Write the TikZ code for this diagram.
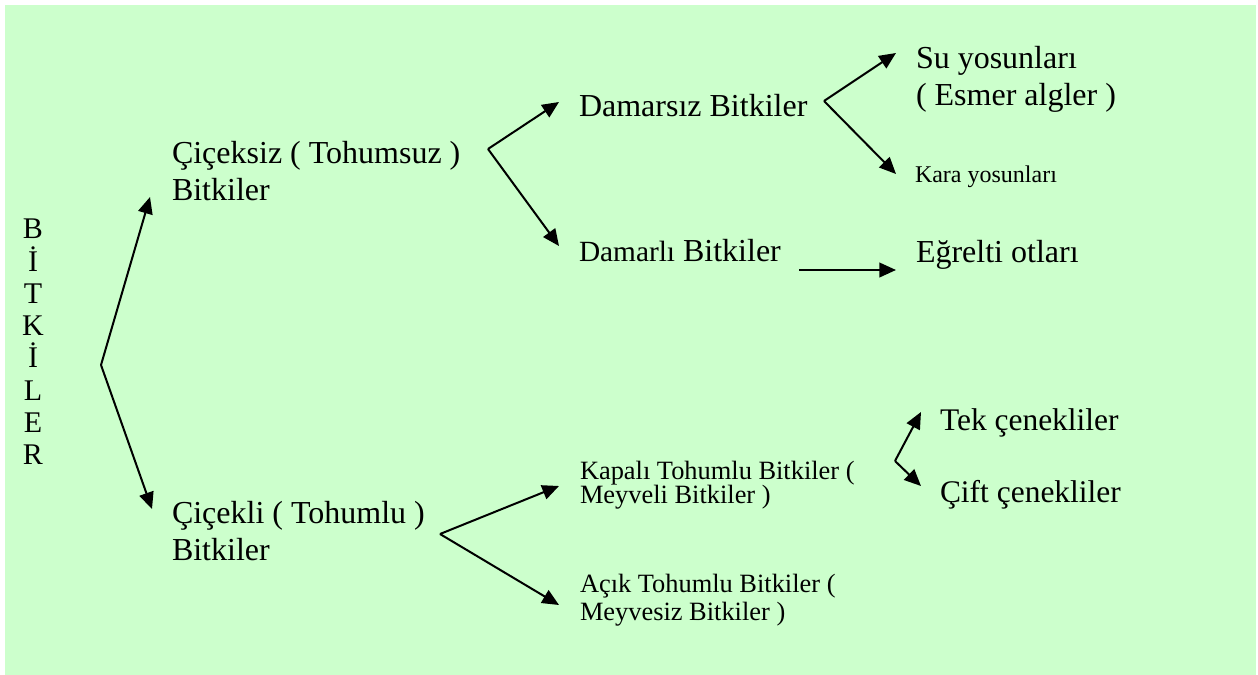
\documentclass[tikz,border=0pt]{standalone}
\usepackage{fontspec}
\setmainfont{Liberation Serif}
\usetikzlibrary{arrows.meta}
\definecolor{leafbg}{RGB}{204,255,204}
% two lines of text whose baseline is the first line's baseline
\newcommand\twolines[2]{\vtop{\hbox{#1}\hbox{#2}}}
\begin{document}
\begin{tikzpicture}[x=0.75pt,y=-0.75pt,
  lbl/.style={anchor=base west, inner sep=0pt, outer sep=0pt},
  big/.style={font=\fontsize{24}{27.75}\selectfont},
  mid/.style={font=\fontsize{23.6}{54}\selectfont},
  tiny/.style={font=\fontsize{18}{21}\selectfont},
  link/.style={line width=1.5pt, -{Triangle[length=12.5pt,width=11pt]}},
]
\useasboundingbox (0,0) rectangle (1258,675);
\fill[leafbg] (5,5) rectangle (1256,675);

% root title, one letter per line
\node[anchor=north, inner sep=0pt, align=center,
      font=\fontsize{22.5}{24.2}\selectfont] (root) at (33,219)
  {B\\İ\\T\\K\\İ\\L\\E\\R};

% first level
\node[lbl, big] (seedless) at (172,163) {\twolines{Çiçeksiz ( Tohumsuz )}{Bitkiler}};
\node[lbl, big] (seed) at (172,523) {\twolines{Çiçekli ( Tohumlu )}{Bitkiler}};

% seedless branch
\node[lbl, big] (nonvasc) at (579,116) {Damarsız Bitkiler};
\node[lbl, big] (vasc) at (579,261) {{\fontsize{22}{26}\selectfont Damarlı} Bitkiler};
\node[lbl, big] (algae) at (916,68) {\twolines{Su yosunları}{( Esmer algler )}};
\node[lbl, tiny] (moss) at (915,182) {Kara yosunları};
\node[lbl, big] (fern) at (916,262) {Eğrelti otları};

% seed branch
\node[lbl, font=\fontsize{19.8}{18}\selectfont] (angio) at (580,479)
  {\twolines{Kapalı Tohumlu Bitkiler (}{Meyveli Bitkiler )}};
\node[lbl, font=\fontsize{19.8}{21.5}\selectfont] (gymno) at (580,592)
  {\twolines{Açık Tohumlu Bitkiler (}{Meyvesiz Bitkiler )}};
\node[lbl, mid] (mono) at (940,430) {Tek çenekliler};
\node[lbl, mid] (dicot) at (940,502) {Çift çenekliler};

% junctions and arrow tips
\coordinate (j0) at (101,365);
\coordinate (a1) at (150,197);
\coordinate (a2) at (152,509);
\coordinate (j1) at (488,149);
\coordinate (b1) at (559,102);
\coordinate (b2) at (559,246);
\coordinate (j2) at (824,101);
\coordinate (c1) at (896,53);
\coordinate (c2) at (896,174);
\coordinate (d0) at (799,270);
\coordinate (d1) at (896,270);
\coordinate (j3) at (440,534);
\coordinate (e1) at (559,486);
\coordinate (e2) at (559,605);
\coordinate (j4) at (895,461);
\coordinate (f1) at (921,412);
\coordinate (f2) at (921,486);

\draw[link] (j0) -- (a1);
\draw[link] (j0) -- (a2);
\draw[link] (j1) -- (b1);
\draw[link] (j1) -- (b2);
\draw[link] (j2) -- (c1);
\draw[link] (j2) -- (c2);
\draw[link] (d0) -- (d1);
\draw[link] (j3) -- (e1);
\draw[link] (j3) -- (e2);
\draw[link] (j4) -- (f1);
\draw[link] (j4) -- (f2);
\end{tikzpicture}
\end{document}
